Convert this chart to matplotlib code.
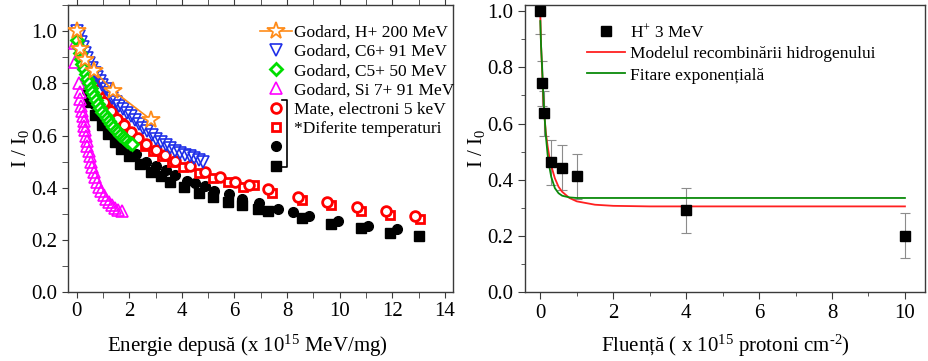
import matplotlib
matplotlib.use("Agg")
import matplotlib.pyplot as plt
from matplotlib.ticker import MultipleLocator
from matplotlib.lines import Line2D

plt.rcParams['font.family'] = ['Liberation Serif', 'DejaVu Serif']
plt.rcParams['mathtext.fontset'] = 'custom'
plt.rcParams['mathtext.rm'] = 'Liberation Serif'
plt.rcParams['mathtext.it'] = 'Liberation Serif:italic'

# ---- left panel data (Energie depusa) ----
h200_x = [0.0, 0.13, 0.32, 0.67, 1.39, 2.82]
h200_y = [1.0, 0.932, 0.889, 0.846, 0.772, 0.661]

c6_x = [0.0, 0.08, 0.16, 0.24, 0.32, 0.40, 0.48, 0.58, 0.68, 0.78, 0.88, 0.98,
        1.10, 1.22, 1.35, 1.48, 1.62, 1.76, 1.90, 2.05, 2.20, 2.36, 2.52, 2.68,
        2.85, 3.02, 3.20, 3.38, 3.56, 3.75, 3.94, 4.12, 4.30, 4.48, 4.65, 4.81]
c6_y = [1.0, 0.98, 0.96, 0.94, 0.918, 0.898, 0.878, 0.858, 0.84, 0.825, 0.81, 0.795,
        0.778, 0.762, 0.745, 0.73, 0.715, 0.70, 0.688, 0.674, 0.66, 0.645, 0.63, 0.616,
        0.602, 0.588, 0.576, 0.563, 0.553, 0.542, 0.534, 0.527, 0.52, 0.512, 0.505, 0.498]

c5_x = [0.02, 0.07, 0.12, 0.17, 0.22, 0.28, 0.34, 0.40, 0.46, 0.53, 0.60, 0.67,
        0.74, 0.82, 0.90, 0.98, 1.06, 1.14, 1.22, 1.30, 1.39, 1.48, 1.57, 1.66,
        1.75, 1.84, 1.93, 2.02, 2.10]
c5_y = [0.965, 0.94, 0.915, 0.895, 0.875, 0.855, 0.835, 0.815, 0.80, 0.782, 0.765, 0.75,
        0.736, 0.72, 0.706, 0.692, 0.68, 0.668, 0.656, 0.645, 0.634, 0.623, 0.613, 0.603,
        0.594, 0.586, 0.578, 0.572, 0.566]

si7_x = [-0.08, -0.05, 0.08, 0.11, 0.14, 0.17, 0.20, 0.23, 0.26, 0.29, 0.32, 0.35,
         0.38, 0.41, 0.45, 0.49, 0.54, 0.59, 0.65, 0.71, 0.78, 0.86, 0.94, 1.03,
         1.13, 1.23, 1.34, 1.46, 1.58, 1.71]
si7_y = [0.955, 0.88, 0.80, 0.765, 0.74, 0.715, 0.695, 0.675, 0.655, 0.638, 0.62, 0.60,
         0.58, 0.56, 0.54, 0.52, 0.50, 0.48, 0.46, 0.44, 0.422, 0.404, 0.388, 0.372,
         0.357, 0.345, 0.333, 0.323, 0.316, 0.309]

mate_c_x = [0.55, 0.80, 1.05, 1.30, 1.55, 1.80, 2.05, 2.35, 2.65, 3.00, 3.35, 3.75,
            4.30, 4.89, 5.44, 6.01, 6.56, 7.29, 8.42, 9.53, 10.66, 11.77, 12.85]
mate_c_y = [0.82, 0.775, 0.73, 0.695, 0.665, 0.64, 0.615, 0.59, 0.567, 0.545, 0.525, 0.503,
            0.483, 0.46, 0.44, 0.42, 0.412, 0.394, 0.365, 0.346, 0.325, 0.311, 0.292]

mate_s_x = [0.65, 0.90, 1.15, 1.40, 1.70, 2.00, 2.30, 2.60, 2.90, 3.25, 3.62, 4.05,
            4.65, 5.19, 5.76, 6.33, 6.75, 7.44, 8.57, 9.68, 10.80, 11.92, 13.04]
mate_s_y = [0.795, 0.75, 0.712, 0.68, 0.648, 0.612, 0.585, 0.56, 0.539, 0.52, 0.50, 0.481,
            0.458, 0.437, 0.42, 0.402, 0.41, 0.379, 0.353, 0.332, 0.311, 0.294, 0.279]

blk_c_x = [0.40, 0.65, 0.90, 1.15, 1.40, 1.65, 1.95, 2.25, 2.63, 3.00, 3.38, 3.75,
           4.20, 4.49, 4.88, 5.21, 5.80, 6.30, 6.92, 7.67, 8.21, 8.83, 9.94, 11.08, 12.18]
blk_c_y = [0.77, 0.72, 0.675, 0.64, 0.61, 0.585, 0.555, 0.53, 0.50, 0.484, 0.466, 0.447,
           0.425, 0.418, 0.405, 0.389, 0.375, 0.357, 0.343, 0.320, 0.307, 0.292, 0.273, 0.255, 0.241]

blk_s_x = [0.45, 0.70, 0.95, 1.20, 1.45, 1.70, 2.00, 2.40, 2.81, 3.19, 3.54, 4.08,
           4.66, 5.19, 5.76, 6.30, 6.89, 7.27, 8.57, 9.68, 10.82, 11.90, 13.01]
blk_s_y = [0.73, 0.68, 0.64, 0.605, 0.575, 0.55, 0.52, 0.489, 0.461, 0.443, 0.423, 0.401,
           0.381, 0.364, 0.345, 0.332, 0.318, 0.311, 0.284, 0.261, 0.245, 0.227, 0.215]

# ---- right panel data (Fluenta) ----
h3_x = [0.0, 0.05, 0.1, 0.3, 0.6, 1.0, 4.0, 10.0]
h3_y = [1.0, 0.743, 0.637, 0.462, 0.442, 0.413, 0.292, 0.20]
h3_err = [0.08, 0.08, 0.08, 0.08, 0.08, 0.08, 0.08, 0.08]

model_x = [0.0, 0.02, 0.05, 0.08, 0.1, 0.15, 0.2, 0.25, 0.3, 0.4, 0.5, 0.6, 0.8,
           1.0, 1.5, 2.0, 3.0, 10.0]
model_y = [0.99, 0.88, 0.79, 0.70, 0.65, 0.57, 0.52, 0.48, 0.45, 0.405, 0.375, 0.357,
           0.335, 0.323, 0.311, 0.307, 0.305, 0.305]

expfit_x = [0.0, 0.02, 0.05, 0.08, 0.1, 0.15, 0.2, 0.25, 0.3, 0.4, 0.5, 0.6, 0.8,
            1.0, 10.0]
expfit_y = [0.965, 0.88, 0.80, 0.71, 0.66, 0.56, 0.49, 0.445, 0.41, 0.37, 0.352, 0.343,
            0.337, 0.335, 0.335]

spine_col = '#3a3a3a'

fig = plt.figure(figsize=(9.29, 3.61), dpi=100)
ax1 = fig.add_axes([0.0732, 0.191, 0.4141, 0.795])
ax2 = fig.add_axes([0.5651, 0.191, 0.4306, 0.795])

# left panel
ax1.plot(blk_s_x, blk_s_y, 's', color='black', ms=6.5, zorder=2, label=' ')
ax1.plot(blk_c_x, blk_c_y, 'o', color='black', ms=7, zorder=2, label=' ')
ax1.plot(mate_s_x, mate_s_y, 's', color='red', mfc='white', mew=2, ms=6, zorder=3,
         label='*Diferite temperaturi')
ax1.plot(mate_c_x, mate_c_y, 'o', color='red', mfc='white', mew=2, ms=7, zorder=3,
         label='Mate, electroni 5 keV')
ax1.plot(c6_x, c6_y, 'v', color='#1f2fe8', mfc='none', mew=1.2, ms=9, zorder=4,
         label='Godard, C6+ 91 MeV')
ax1.plot(si7_x, si7_y, '^', color='#ff00ff', mfc='none', mew=1.2, ms=9, zorder=4,
         label='Godard, Si 7+ 91 MeV')
ax1.plot(c5_x, c5_y, 'D', color='#00dd00', mfc='white', mew=2, ms=6.5, zorder=5,
         label='Godard, C5+ 50 MeV')
ax1.plot(h200_x, h200_y, '-*', color='#ff8c1a', mfc='white', mew=1.3, ms=13, lw=1.2,
         zorder=6, label='Godard, H+ 200 MeV')

ax1.set_xlim(-0.33, 14.3)
ax1.set_ylim(0, 1.1)
ax1.xaxis.set_major_locator(MultipleLocator(2))
ax1.xaxis.set_minor_locator(MultipleLocator(1))
ax1.yaxis.set_major_locator(MultipleLocator(0.2))
ax1.yaxis.set_minor_locator(MultipleLocator(0.1))
ax1.yaxis.set_major_formatter(plt.FormatStrFormatter('%.1f'))
ax1.set_xlabel('Energie depusă (x 10$^{15}$ MeV/mg)', fontsize=15, labelpad=8)
ax1.xaxis.label.set_x(0.465)
ax1.set_ylabel('I / I$_0$', fontsize=15, labelpad=0)

handles, labels = ax1.get_legend_handles_labels()
order = [7, 4, 6, 5, 3, 2, 1, 0]
leg1 = ax1.legend([handles[i] for i in order],
                  [labels[i] if i > 1 else '' for i in order],
                  loc='upper left', bbox_to_anchor=(0.50, 0.932), frameon=False,
                  fontsize=12.5, handlelength=1.8, handletextpad=0.15,
                  labelspacing=0.18, borderpad=0, borderaxespad=0)
# bracket grouping the Mate entries
ax1.add_line(Line2D([0.556, 0.569, 0.569, 0.556], [0.669, 0.669, 0.436, 0.436],
                    transform=ax1.transAxes, color='black', lw=1.2))

# right panel
ax2.errorbar(h3_x, h3_y, yerr=h3_err, fmt='none', ecolor='#8c8c8c', elinewidth=0.8,
             capsize=3.5, capthick=0.8, zorder=2)
ax2.plot(h3_x, h3_y, 's', color='black', ms=6.5, zorder=5, label='H$^{+}$ 3 MeV')
ax2.plot(model_x, model_y, '-', color='#ff2020', lw=1.3, zorder=3,
         label='Modelul recombinării hidrogenului')
ax2.plot(expfit_x, expfit_y, '-', color='#0a8a0a', lw=1.3, zorder=4,
         label='Fitare exponențială')
ax2.set_xlim(-0.42, 10.55)
ax2.set_ylim(0, 1.022)
ax2.xaxis.set_major_locator(MultipleLocator(2))
ax2.xaxis.set_minor_locator(MultipleLocator(1))
ax2.yaxis.set_major_locator(MultipleLocator(0.2))
ax2.yaxis.set_minor_locator(MultipleLocator(0.1))
ax2.yaxis.set_major_formatter(plt.FormatStrFormatter('%.1f'))
ax2.set_xlabel(r'Fluență ( x 10$^{15}$ protoni cm$^{\text{-}2}$)', fontsize=15, labelpad=7)
ax2.set_ylabel('I / I$_0$', fontsize=15, labelpad=0)
ax2.legend(loc='upper left', bbox_to_anchor=(0.155, 0.938), frameon=False,
           fontsize=12.5, handlelength=2.2, handletextpad=0.3, labelspacing=0.3,
           borderpad=0, borderaxespad=0)

for ax in (ax1, ax2):
    for s in ax.spines.values():
        s.set_color(spine_col)
        s.set_linewidth(1.0)
    ax.tick_params(which='both', direction='out', colors=spine_col, labelcolor='black',
                   labelsize=15)
    ax.tick_params(which='major', length=5)
    ax.tick_params(which='minor', length=3)
ax1.tick_params(which='both', top=True, length=4)

fig.savefig('out.png', dpi=100)
